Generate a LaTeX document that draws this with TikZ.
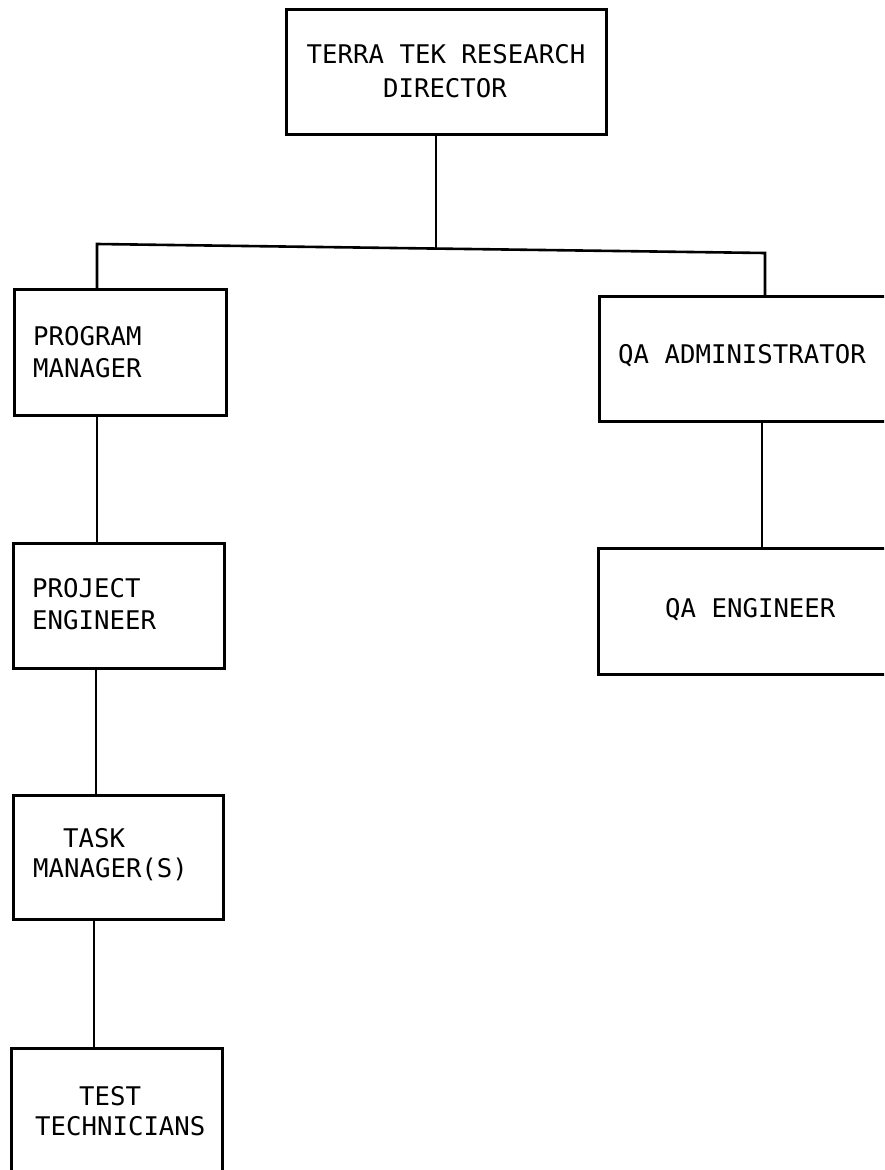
\documentclass[tikz,border=0pt]{standalone}
\usepackage{fontspec}
\setmonofont{DejaVu Sans Mono}
\tikzset{
  box/.style={draw=black, line width=2.6pt, rectangle, inner sep=0pt, anchor=north west},
  lbl/.style={font=\ttfamily\fontsize{25.7}{32}\selectfont, inner sep=0pt, text=black},
  wire/.style={draw=black, line width=2.6pt}
}
\begin{document}
\begin{tikzpicture}[x=1pt,y=-1pt]
\useasboundingbox (0,0) rectangle (884,1170);
\fill[white] (0,0) rectangle (884,1170);
\clip (0,0) rectangle (884,1170);
% boxes
\node[box, minimum width=320pt, minimum height=125pt] (dir) at (285,8) {};
\node[box, minimum width=212pt, minimum height=126pt] (pm) at (13,288) {};
\node[box, minimum width=211pt, minimum height=125pt] (pe) at (12,542) {};
\node[box, minimum width=210pt, minimum height=124pt] (tm) at (12,794) {};
\node[box, minimum width=211pt, minimum height=140pt] (tt) at (10,1047) {};
\node[box, minimum width=310pt, minimum height=125pt] (qa) at (598,295) {};
\node[box, minimum width=310pt, minimum height=126pt] (qe) at (597,547) {};
% texts
\node[lbl, anchor=base] (dir1) at (446,63) {TERRA TEK RESEARCH};
\node[lbl, anchor=base] (dir2) at (445,97) {DIRECTOR};
\node[lbl, anchor=base west] (pm1) at (33,345) {PROGRAM};
\node[lbl, anchor=base west] (pm2) at (33,377) {MANAGER};
\node[lbl, anchor=base west] (pe1) at (32,597) {PROJECT};
\node[lbl, anchor=base west] (pe2) at (32,629) {ENGINEER};
\node[lbl, anchor=base west] (tm1) at (63,847) {TASK};
\node[lbl, anchor=base west] (tm2) at (33,877) {MANAGER(S)};
\node[lbl, anchor=base west] (tt1) at (79,1105) {TEST};
\node[lbl, anchor=base west] (tt2) at (35,1135) {TECHNICIANS};
\node[lbl, anchor=base west] (qa1) at (618,363) {QA ADMINISTRATOR};
\node[lbl, anchor=base west] (qe1) at (665,617) {QA ENGINEER};
% connectors
\coordinate (bl) at (97,244);
\coordinate (br) at (765,253);
\coordinate (j) at (436,248.6);
\draw[wire] (dir.south -| j) -- (j);
\draw[wire] (bl |- pm.north) -- (bl) -- (br) -- (br |- qa.north);
\draw[wire] (qa.south -| 762,0) -- (qe.north -| 762,0);
\draw[wire] (pm.south -| 97,0) -- (pe.north -| 97,0);
\draw[wire] (pe.south -| 96,0) -- (tm.north -| 96,0);
\draw[wire] (tm.south -| 94,0) -- (tt.north -| 94,0);
\end{tikzpicture}
\end{document}
